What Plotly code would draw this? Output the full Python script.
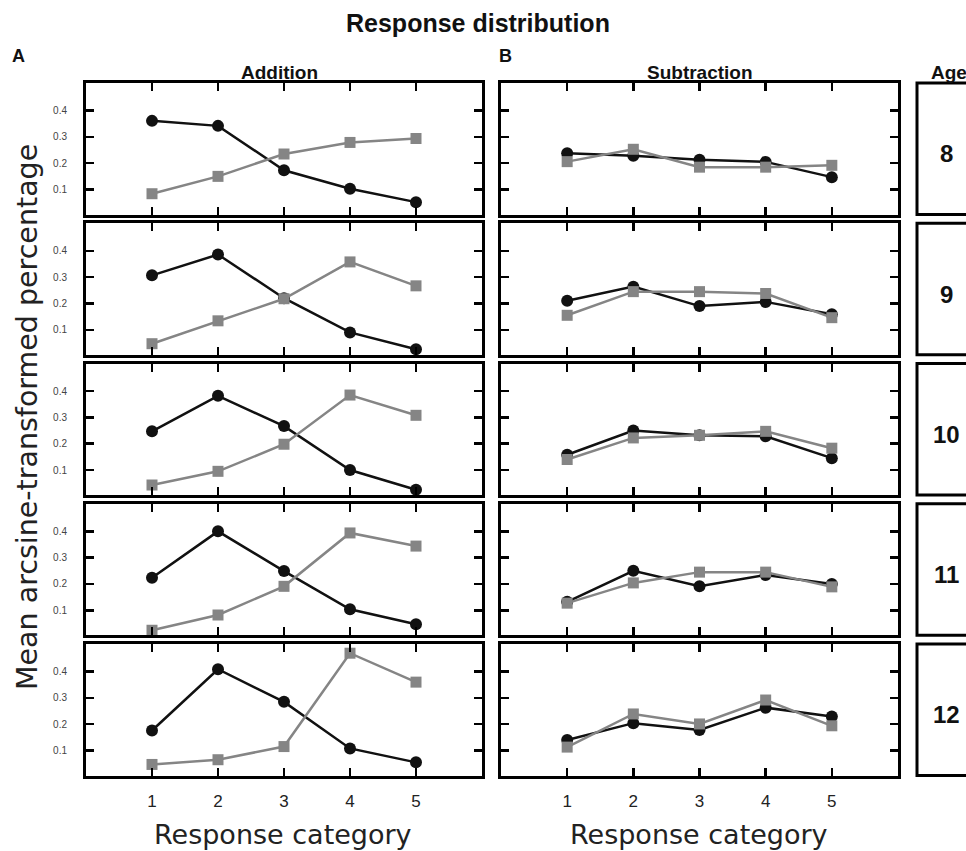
import plotly.graph_objects as go

# ---------------- data ----------------
categories = [1, 2, 3, 4, 5]
ages = ["8", "9", "10", "11", "12"]

# Addition (panel A) – one list per age row
add_black_8 = [0.361, 0.342, 0.173, 0.103, 0.052]
add_black_9 = [0.307, 0.386, 0.220, 0.090, 0.026]
add_black_10 = [0.247, 0.382, 0.267, 0.100, 0.025]
add_black_11 = [0.224, 0.400, 0.249, 0.104, 0.047]
add_black_12 = [0.176, 0.409, 0.285, 0.108, 0.055]

add_gray_8 = [0.084, 0.150, 0.235, 0.279, 0.294]
add_gray_9 = [0.047, 0.134, 0.218, 0.358, 0.267]
add_gray_10 = [0.043, 0.095, 0.198, 0.385, 0.308]
add_gray_11 = [0.024, 0.082, 0.191, 0.394, 0.344]
add_gray_12 = [0.047, 0.065, 0.115, 0.470, 0.360]

# Subtraction (panel B)
sub_black_8 = [0.238, 0.228, 0.213, 0.205, 0.147]
sub_black_9 = [0.210, 0.264, 0.190, 0.206, 0.159]
sub_black_10 = [0.158, 0.250, 0.232, 0.228, 0.145]
sub_black_11 = [0.132, 0.250, 0.191, 0.234, 0.200]
sub_black_12 = [0.140, 0.204, 0.178, 0.263, 0.229]

sub_gray_8 = [0.206, 0.253, 0.185, 0.185, 0.192]
sub_gray_9 = [0.155, 0.245, 0.245, 0.238, 0.146]
sub_gray_10 = [0.140, 0.222, 0.232, 0.247, 0.183]
sub_gray_11 = [0.127, 0.204, 0.245, 0.245, 0.189]
sub_gray_12 = [0.113, 0.239, 0.201, 0.292, 0.194]

y_tickvals = [0.1, 0.2, 0.3, 0.4]
y_ticktext = ["0.1", "0.2", "0.3", "0.4"]

add_black = [add_black_8, add_black_9, add_black_10, add_black_11, add_black_12]
add_gray = [add_gray_8, add_gray_9, add_gray_10, add_gray_11, add_gray_12]
sub_black = [sub_black_8, sub_black_9, sub_black_10, sub_black_11, sub_black_12]
sub_gray = [sub_gray_8, sub_gray_9, sub_gray_10, sub_gray_11, sub_gray_12]

# ---------------- layout helpers ----------------
W, H = 966, 851


def fx(x):
    return x / W


def fy(y):
    return 1 - y / H


row_top = [83 + 140.25 * i for i in range(5)]
row_h = 131.5
colA = (86, 482)
colB = (501, 898)
ageX0 = 917

BLACK = "#111111"
GRAY = "#858585"
SANS = "Liberation Sans, Arial, sans-serif"
DEJAVU = "DejaVu Sans, sans-serif"

fig = go.Figure()
layout = dict(
    width=W, height=H,
    margin=dict(l=0, r=0, t=0, b=0),
    paper_bgcolor="white", plot_bgcolor="white",
    showlegend=False,
)

axis_n = 0
for r in range(5):
    ytop, ybot = row_top[r], row_top[r] + row_h
    for c, (col, blk, gry) in enumerate([(colA, add_black, add_gray), (colB, sub_black, sub_gray)]):
        axis_n += 1
        xa = "x" if axis_n == 1 else f"x{axis_n}"
        ya = "y" if axis_n == 1 else f"y{axis_n}"
        fig.add_trace(go.Scatter(
            x=categories, y=blk[r], xaxis=xa, yaxis=ya, mode="lines+markers",
            line=dict(color=BLACK, width=2.5),
            marker=dict(symbol="circle", size=12, color=BLACK),
            cliponaxis=False,
        ))
        fig.add_trace(go.Scatter(
            x=categories, y=gry[r], xaxis=xa, yaxis=ya, mode="lines+markers",
            line=dict(color=GRAY, width=2.5),
            marker=dict(symbol="square", size=11, color=GRAY),
            cliponaxis=False,
        ))
        xkey = "xaxis" if axis_n == 1 else f"xaxis{axis_n}"
        ykey = "yaxis" if axis_n == 1 else f"yaxis{axis_n}"
        layout[xkey] = dict(
            domain=[fx(col[0]), fx(col[1])], anchor=ya,
            range=[0, 6], tickvals=categories,
            ticktext=[str(v) for v in categories],
            showticklabels=(r == 4),
            ticks="inside", ticklen=8, tickwidth=2.5, tickcolor="black",
            showline=True, linewidth=3, linecolor="black", mirror="ticks",
            showgrid=False, zeroline=False, fixedrange=True,
            tickfont=dict(family=SANS, size=17, color="#222"),
            ticklabelstandoff=8,
        )
        layout[ykey] = dict(
            domain=[fy(ybot), fy(ytop)], anchor=xa,
            range=[0.005, 0.505], tickvals=y_tickvals, ticktext=y_ticktext,
            showticklabels=(c == 0),
            ticks="inside", ticklen=8, tickwidth=2.5, tickcolor="black",
            showline=True, linewidth=3, linecolor="black", mirror="ticks",
            showgrid=False, zeroline=False, fixedrange=True,
            tickfont=dict(family=SANS, size=10, color="#444"),
            ticklabelstandoff=14,
        )

shapes = []
annotations = []
for r in range(5):
    ytop, ybot = row_top[r], row_top[r] + row_h
    shapes.append(dict(type="rect", xref="paper", yref="paper",
                       x0=fx(ageX0), x1=fx(ageX0 + 100), y0=fy(ybot), y1=fy(ytop),
                       line=dict(color="black", width=3), fillcolor="rgba(0,0,0,0)"))
    annotations.append(dict(text="<b>" + ages[r] + "</b>", xref="paper", yref="paper",
                            x=fx(946), y=fy((ytop + ybot) / 2 + 5),
                            xanchor="center", yanchor="middle", showarrow=False,
                            font=dict(family=SANS, size=24, color="#111")))

annotations += [
    dict(text="<b>Response distribution</b>", x=fx(478), y=fy(23), xanchor="center", yanchor="middle",
         font=dict(family=SANS, size=25, color="#111")),
    dict(text="<b>A</b>", x=fx(18.5), y=fy(56), xanchor="center", yanchor="middle",
         font=dict(family=SANS, size=18, color="#111")),
    dict(text="<b>B</b>", x=fx(505), y=fy(56), xanchor="center", yanchor="middle",
         font=dict(family=SANS, size=18, color="#111")),
    dict(text="<b>Addition</b>", x=fx(279), y=fy(73), xanchor="center", yanchor="middle",
         font=dict(family=SANS, size=19, color="#111")),
    dict(text="<b>Subtraction</b>", x=fx(700), y=fy(73), xanchor="center", yanchor="middle",
         font=dict(family=SANS, size=19, color="#111")),
    dict(text="<b>Age</b>", x=fx(929), y=fy(73), xanchor="left", yanchor="middle",
         font=dict(family=SANS, size=19, color="#111")),
    dict(text="Response category", x=fx(283), y=fy(834), xanchor="center", yanchor="middle",
         font=dict(family=DEJAVU, size=27, color="#222")),
    dict(text="Response category", x=fx(699), y=fy(834), xanchor="center", yanchor="middle",
         font=dict(family=DEJAVU, size=27, color="#222")),
    dict(text="Mean arcsine-transformed percentage", x=fx(27), y=fy(417), textangle=-90,
         xanchor="center", yanchor="middle",
         font=dict(family=DEJAVU, size=28.5, color="#222")),
]
for a in annotations:
    a.setdefault("xref", "paper")
    a.setdefault("yref", "paper")
    a["showarrow"] = False

layout["shapes"] = shapes
layout["annotations"] = annotations
fig.update_layout(**layout)
fig.write_html(
    "out.html",
    config={"displayModeBar": False, "staticPlot": True},
    post_script="document.body.style.margin='0';document.body.style.overflow='hidden';",
)
